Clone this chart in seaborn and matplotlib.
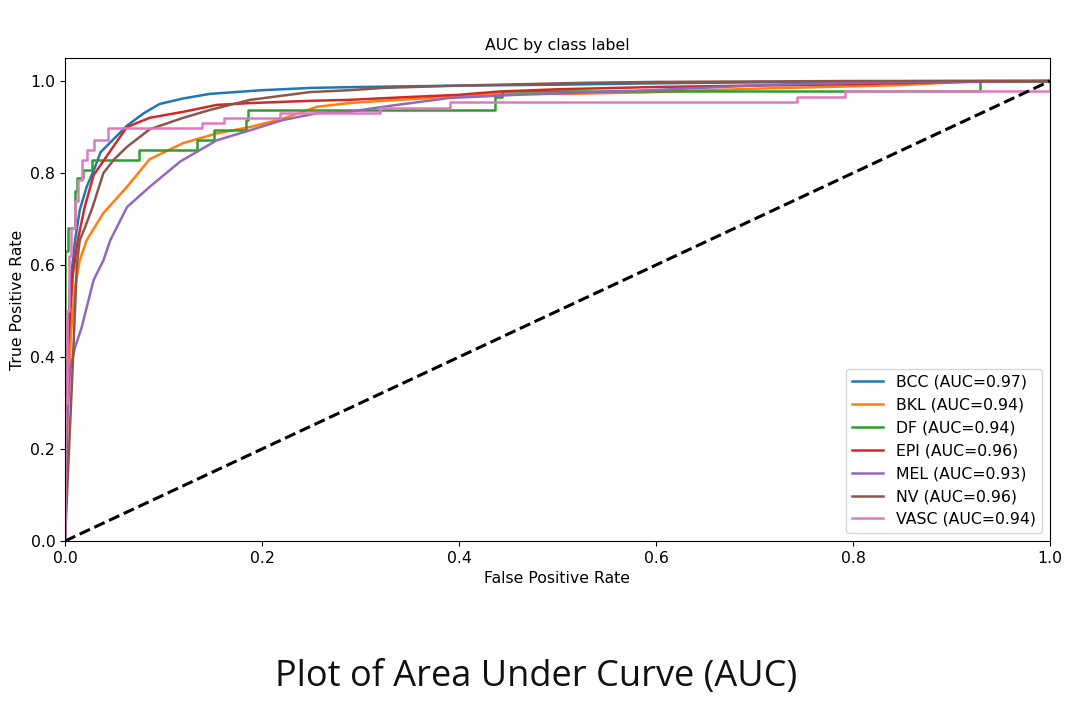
import matplotlib
matplotlib.use("Agg")
import matplotlib.pyplot as plt
import seaborn as sns
import numpy as np

# ---- data ----
classes = ["BCC", "BKL", "DF", "EPI", "MEL", "NV", "VASC"]
aucs = [0.97, 0.94, 0.94, 0.96, 0.93, 0.96, 0.94]

bcc_fpr = [0, 0.002, 0.005, 0.01, 0.015, 0.022, 0.03, 0.036, 0.05, 0.063, 0.08, 0.096, 0.12, 0.147, 0.2, 0.25, 0.3, 0.4, 0.5, 0.6, 0.7, 0.8, 0.9, 1.0]
bcc_tpr = [0, 0.35, 0.55, 0.65, 0.72, 0.77, 0.81, 0.845, 0.875, 0.903, 0.93, 0.95, 0.962, 0.972, 0.98, 0.985, 0.987, 0.99, 0.992, 0.995, 0.997, 0.999, 1.0, 1.0]

bkl_fpr = [0, 0.003, 0.006, 0.01, 0.015, 0.022, 0.039, 0.063, 0.086, 0.12, 0.154, 0.188, 0.221, 0.256, 0.289, 0.33, 0.39, 0.44, 0.513, 0.584, 0.695, 0.848, 0.93, 1.0]
bkl_tpr = [0, 0.3, 0.45, 0.55, 0.61, 0.654, 0.713, 0.77, 0.83, 0.865, 0.886, 0.90, 0.918, 0.944, 0.952, 0.958, 0.965, 0.972, 0.972, 0.975, 0.983, 0.991, 1.0, 1.0]

df_fpr = [0, 0, 0.003, 0.01, 0.012, 0.018, 0.027, 0.075, 0.134, 0.151, 0.184, 0.186, 0.437, 0.444, 0.929, 1.0]
df_tpr = [0, 0.63, 0.68, 0.76, 0.79, 0.806, 0.828, 0.85, 0.871, 0.893, 0.915, 0.937, 0.965, 0.978, 1.0, 1.0]

epi_fpr = [0, 0.003, 0.008, 0.013, 0.02, 0.029, 0.046, 0.063, 0.086, 0.12, 0.154, 0.188, 0.25, 0.289, 0.347, 0.4, 0.44, 0.5, 0.6, 0.7, 0.8, 0.88, 1.0]
epi_tpr = [0, 0.42, 0.58, 0.654, 0.726, 0.795, 0.848, 0.90, 0.92, 0.933, 0.948, 0.952, 0.957, 0.959, 0.965, 0.97, 0.977, 0.982, 0.987, 0.99, 0.993, 0.997, 1.0]

mel_fpr = [0, 0.002, 0.005, 0.01, 0.017, 0.029, 0.039, 0.046, 0.063, 0.086, 0.117, 0.154, 0.188, 0.221, 0.256, 0.289, 0.323, 0.39, 0.459, 0.594, 0.73, 0.85, 1.0]
mel_tpr = [0, 0.25, 0.37, 0.42, 0.465, 0.567, 0.61, 0.654, 0.726, 0.77, 0.825, 0.871, 0.893, 0.915, 0.93, 0.933, 0.944, 0.963, 0.97, 0.98, 0.993, 0.998, 1.0]

nv_fpr = [0, 0.008, 0.012, 0.015, 0.02, 0.028, 0.039, 0.05, 0.063, 0.086, 0.12, 0.147, 0.188, 0.249, 0.289, 0.323, 0.4, 0.526, 0.6, 0.8, 1.0]
nv_tpr = [0, 0.39, 0.6, 0.654, 0.68, 0.726, 0.80, 0.83, 0.857, 0.895, 0.92, 0.937, 0.959, 0.976, 0.98, 0.985, 0.99, 0.996, 0.998, 1.0, 1.0]

vasc_fpr = [0, 0, 0.002, 0.004, 0.006, 0.010, 0.013, 0.017, 0.022, 0.029, 0.044, 0.139, 0.161, 0.218, 0.32, 0.391, 0.743, 0.792, 1.0, 1.0]
vasc_tpr = [0, 0.3, 0.5, 0.62, 0.68, 0.74, 0.785, 0.828, 0.85, 0.871, 0.898, 0.909, 0.92, 0.93, 0.941, 0.954, 0.965, 0.978, 0.978, 1.0]

diag = [0, 1]

title = "AUC by class label"
xlabel = "False Positive Rate"
ylabel = "True Positive Rate"
caption = "Plot of Area Under Curve (AUC)"

# ---- plot ----
curves = [
    (bcc_fpr, bcc_tpr, "default"),
    (bkl_fpr, bkl_tpr, "default"),
    (df_fpr, df_tpr, "steps-post"),
    (epi_fpr, epi_tpr, "default"),
    (mel_fpr, mel_tpr, "default"),
    (nv_fpr, nv_tpr, "default"),
    (vasc_fpr, vasc_tpr, "steps-post"),
]
palette = sns.color_palette("tab10", 7)
fs = 11.3

fig = plt.figure(figsize=(10.86, 7.2), dpi=100)
ax = fig.add_axes([65 / 1086, 1 - 541 / 720, 985 / 1086, 483 / 720])

for (fx, ty, ds), name, auc, col in zip(curves, classes, aucs, palette):
    sns.lineplot(x=fx, y=ty, ax=ax, color=col, linewidth=1.8, estimator=None,
                 sort=False, drawstyle=ds, label=f"{name} (AUC={auc:.2f})")

sns.lineplot(x=diag, y=diag, ax=ax, color="black", linestyle="--", linewidth=2.2,
             estimator=None, sort=False)

ax.set_xlim(0, 1)
ax.set_ylim(0, 1.05)
ax.set_xlabel(xlabel, fontsize=fs)
ax.set_ylabel(ylabel, fontsize=fs)
ax.set_title(title, fontsize=fs)
ax.tick_params(labelsize=fs)
ax.legend(loc="lower right", fontsize=fs)

fig.text(0.494, 0.06, caption, ha="center", va="center", fontsize=26,
         family=["Open Sans", "DejaVu Sans"], color="#111111")

fig.savefig("out.png", dpi=100)
